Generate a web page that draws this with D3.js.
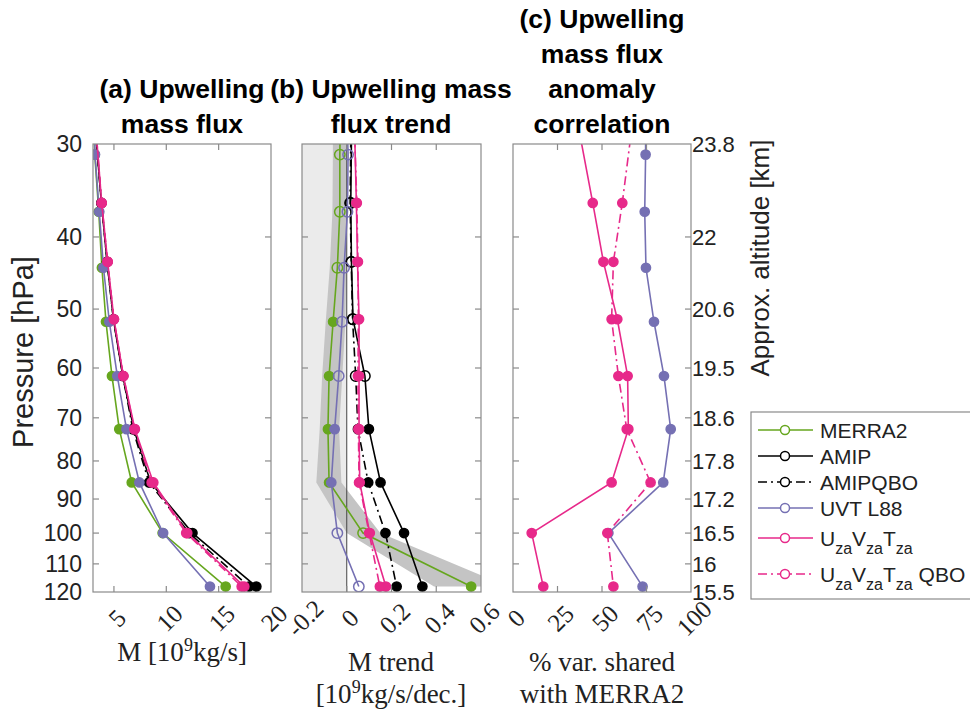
<!DOCTYPE html>
<html>
<head>
<meta charset="utf-8">
<script src="https://cdn.jsdelivr.net/npm/d3@7"></script>
<style>
	body { margin: 0; background: #fff; }
	svg { font-family: "Liberation Sans", Arial, sans-serif; }
</style>
</head>
<body>
<svg id="chart" width="970" height="711"></svg>
<script>
	// pressure levels [hPa] - first entry sits just above the 30 hPa top of the axes
	var levelsMerra = [27, 31, 37, 44, 52, 61.5, 72.5, 85.5, 100, 118];
	var levelsAmip = [29.5, 36, 43.2, 51.6, 61.5, 72.5, 85.5, 100, 118];
	var pressureTicks = [30, 40, 50, 60, 70, 80, 90, 100, 110, 120];
	var altitudeLabels = ['23.8', '22', '20.6', '19.5', '18.6', '17.8', '17.2', '16.5', '16', '15.5'];

	// (a) upwelling mass flux [1e9 kg/s]
	var fluxMerra = [3.05, 3.17, 3.55, 3.85, 4.24, 4.81, 5.51, 6.7, 9.65, 15.67];
	var fluxUvt = [3.1, 3.19, 3.6, 4.0, 4.56, 5.32, 6.2, 7.43, 9.7, 14.17];
	var fluxAmip = [3.3, 3.8, 4.35, 4.95, 5.85, 6.9, 8.5, 12.5, 18.6];
	var fluxAmipQbo = [3.3, 3.8, 4.35, 4.95, 5.85, 6.8, 8.35, 12.2, 17.9];
	var fluxUvtZa = [3.35, 3.83, 4.4, 5.0, 5.9, 7.0, 8.76, 12.0, 17.45];
	var fluxUvtZaQbo = [3.35, 3.83, 4.4, 5.0, 5.9, 6.95, 8.6, 11.9, 17.2];

	// (b) trend [1e9 kg/s/dec.] and significance (1 = filled marker)
	var trendMerra = [-0.028, -0.031, -0.031, -0.042, -0.061, -0.079, -0.084, -0.079, 0.073, 0.556];
	var sigMerra = [0, 0, 0, 0, 1, 1, 1, 1, 0, 1];
	var trendUvt = [0.0, 0.006, 0.003, -0.012, -0.021, -0.036, -0.054, -0.069, -0.042, 0.054];
	var sigUvt = [0, 0, 0, 0, 0, 0, 1, 1, 0, 0];
	var trendAmip = [0.021, 0.018, 0.021, 0.028, 0.081, 0.099, 0.151, 0.256, 0.338];
	var sigAmip = [0, 0, 0, 0, 0, 1, 1, 1, 1];
	var trendAmipQbo = [0.018, 0.015, 0.02, 0.026, 0.04, 0.05, 0.096, 0.173, 0.223];
	var sigAmipQbo = [0, 0, 0, 0, 0, 1, 1, 1, 1];
	var trendUvtZa = [0.036, 0.043, 0.048, 0.055, 0.055, 0.055, 0.058, 0.103, 0.175];
	var trendUvtZaQbo = [0.036, 0.045, 0.05, 0.052, 0.05, 0.052, 0.055, 0.1, 0.148];
	var sigAll = [1, 1, 1, 1, 1, 1, 1, 1, 1];
	// MERRA2 trend uncertainty band
	var bandLow = [-0.062, -0.062, -0.064, -0.076, -0.094, -0.11, -0.121, -0.136, 0.0, 0.39];
	var bandHigh = [-0.001, -0.001, -0.001, -0.002, -0.006, -0.02, -0.034, -0.024, 0.15, 0.72];

	// (c) % variance shared with MERRA2
	var corrUvt = [74.5, 74.5, 74, 74.7, 79.2, 84.8, 88.6, 84.4, 53.6, 72.8];
	var corrUvtZa = [38, 44.8, 50.8, 58.6, 64.4, 64.8, 55.4, 10.5, 17];
	var corrUvtZaQbo = [66, 61.4, 56.4, 55.4, 59.2, 63.9, 77.3, 53, 56.4];

(function() {
	'use strict';

	var colors = {merra: '#66a61e', amip: '#000000', uvt: '#7570b3', za: '#e7298a'};
	var dashDot = '9,4,2,4';
	var axisGray = '#8a8a8a';
	var serif = '"Liberation Serif", "DejaVu Serif", serif';

	var svg = d3.select('#chart');
	var yTop = 144, yBottom = 592;
	var panels = [
		{id: 'a', x0: 93, x1: 271, domain: [3, 20], ticks: [5, 10, 15, 20]},
		{id: 'b', x0: 302, x1: 481, domain: [-0.2, 0.6], ticks: [-0.2, 0, 0.2, 0.4, 0.6]},
		{id: 'c', x0: 513, x1: 691, domain: [0, 100], ticks: [0, 25, 50, 75, 100]}
	];

	var y = d3.scaleLog().domain([30, 120]).range([yTop, yBottom]);

	function makeSeries(levels, values, sig, color, dash) {
		return {
			color: color, dash: dash,
			points: levels.map(function(p, i) {
				return {p: p, v: values[i], filled: sig ? sig[i] === 1 : true};
			})
		};
	}

	panels[0].series = [
		makeSeries(levelsMerra, fluxMerra, null, colors.merra, null),
		makeSeries(levelsAmip, fluxAmip, null, colors.amip, null),
		makeSeries(levelsAmip, fluxAmipQbo, null, colors.amip, dashDot),
		makeSeries(levelsMerra, fluxUvt, null, colors.uvt, null),
		makeSeries(levelsAmip, fluxUvtZa, null, colors.za, null),
		makeSeries(levelsAmip, fluxUvtZaQbo, null, colors.za, dashDot)
	];
	panels[1].series = [
		makeSeries(levelsMerra, trendMerra, sigMerra, colors.merra, null),
		makeSeries(levelsAmip, trendAmip, sigAmip, colors.amip, null),
		makeSeries(levelsAmip, trendAmipQbo, sigAmipQbo, colors.amip, dashDot),
		makeSeries(levelsMerra, trendUvt, sigUvt, colors.uvt, null),
		makeSeries(levelsAmip, trendUvtZa, sigAll, colors.za, null),
		makeSeries(levelsAmip, trendUvtZaQbo, sigAll, colors.za, dashDot)
	];
	panels[2].series = [
		makeSeries(levelsMerra, corrUvt, null, colors.uvt, null),
		makeSeries(levelsAmip, corrUvtZa, null, colors.za, null),
		makeSeries(levelsAmip, corrUvtZaQbo, null, colors.za, dashDot)
	];

	var defs = svg.append('defs');

	panels.forEach(function(pn) {
		var x = d3.scaleLinear().domain(pn.domain).range([pn.x0, pn.x1]);

		defs.append('clipPath').attr('id', 'clip-' + pn.id)
			.append('rect')
				.attr('x', pn.x0).attr('y', yTop)
				.attr('width', pn.x1 - pn.x0).attr('height', yBottom - yTop);

		var g = svg.append('g');
		var plot = g.append('g').attr('clip-path', 'url(#clip-' + pn.id + ')');

		if (pn.id === 'b') {
			// negative-trend shading, MERRA2 band, zero line
			plot.append('rect')
				.attr('x', x(-0.2)).attr('y', yTop)
				.attr('width', x(0) - x(-0.2)).attr('height', yBottom - yTop)
				.attr('fill', '#ebebeb');
			var band = levelsMerra.map(function(p, i) { return {p: p, lo: bandLow[i], hi: bandHigh[i]}; });
			plot.append('path')
				.datum(band)
				.attr('fill', '#c4c4c4')
				.attr('d', d3.area()
					.y(function(d) { return y(d.p); })
					.x0(function(d) { return x(d.lo); })
					.x1(function(d) { return x(d.hi); }));
			plot.append('line')
				.attr('x1', x(0)).attr('x2', x(0))
				.attr('y1', yTop).attr('y2', yBottom)
				.attr('stroke', '#444').attr('stroke-width', 1);
		}

		var line = d3.line()
			.x(function(d) { return x(d.v); })
			.y(function(d) { return y(d.p); });

		pn.series.forEach(function(s) {
			plot.append('path')
				.datum(s.points)
				.attr('fill', 'none')
				.attr('stroke', s.color)
				.attr('stroke-width', 1.6)
				.attr('stroke-dasharray', s.dash)
				.attr('d', line);
			plot.selectAll(null)
				.data(s.points.filter(function(d) { return d.p >= 30 && d.p <= 120; }))
				.enter().append('circle')
					.attr('cx', function(d) { return x(d.v); })
					.attr('cy', function(d) { return y(d.p); })
					.attr('r', function(d) { return d.filled ? 4.6 : 5.2; })
					.attr('fill', function(d) { return d.filled ? s.color : 'none'; })
					.attr('stroke', s.color)
					.attr('stroke-width', 1.5);
		});

		// box + inward ticks on all four sides
		g.append('rect')
			.attr('x', pn.x0).attr('y', yTop)
			.attr('width', pn.x1 - pn.x0).attr('height', yBottom - yTop)
			.attr('fill', 'none').attr('stroke', axisGray).attr('stroke-width', 1.2);

		var tk = g.append('g').attr('stroke', axisGray).attr('stroke-width', 1.2);
		pressureTicks.slice(1, -1).forEach(function(p) {
			tk.append('line').attr('x1', pn.x0).attr('x2', pn.x0 + 6).attr('y1', y(p)).attr('y2', y(p));
			tk.append('line').attr('x1', pn.x1).attr('x2', pn.x1 - 6).attr('y1', y(p)).attr('y2', y(p));
		});
		pn.ticks.forEach(function(t) {
			var xx = x(t);
			if (xx <= pn.x0 + 1 || xx >= pn.x1 - 1) return;
			tk.append('line').attr('x1', xx).attr('x2', xx).attr('y1', yBottom).attr('y2', yBottom - 6);
			tk.append('line').attr('x1', xx).attr('x2', xx).attr('y1', yTop).attr('y2', yTop + 6);
		});

		// rotated x tick labels
		g.selectAll('text.xtick')
			.data(pn.ticks).enter()
			.append('text')
				.attr('class', 'xtick')
				.attr('transform', function(d) { return 'translate(' + (x(d) + 3) + ',618) rotate(-45)'; })
				.attr('text-anchor', 'middle')
				.attr('dy', '0.35em')
				.style('font-family', serif)
				.style('font-size', '25px')
				.attr('fill', '#222')
				.text(String);
	});

	// left pressure labels
	svg.selectAll('text.ytick')
		.data(pressureTicks).enter()
		.append('text')
			.attr('class', 'ytick')
			.attr('x', 82).attr('y', function(d) { return y(d); })
			.attr('dy', '0.36em')
			.attr('text-anchor', 'end')
			.style('font-size', '23px')
			.attr('fill', '#222')
			.text(String);

	// right altitude labels
	svg.selectAll('text.alt')
		.data(pressureTicks).enter()
		.append('text')
			.attr('class', 'alt')
			.attr('x', 692).attr('y', function(d) { return y(d); })
			.attr('dy', '0.36em')
			.style('font-size', '22px')
			.attr('fill', '#222')
			.text(function(d, i) { return altitudeLabels[i]; });

	svg.append('text')
		.attr('transform', 'translate(33,352) rotate(-90)')
		.attr('text-anchor', 'middle')
		.style('font-size', '29px')
		.attr('fill', '#222')
		.text('Pressure [hPa]');

	svg.append('text')
		.attr('transform', 'translate(769,258) rotate(-90)')
		.attr('text-anchor', 'middle')
		.style('font-size', '26px')
		.attr('fill', '#222')
		.text('Approx. altitude [km]');

	// titles
	var titles = [
		{cx: 182, lines: ['(a) Upwelling', 'mass flux']},
		{cx: 391, lines: ['(b) Upwelling mass', 'flux trend']},
		{cx: 602, lines: ['(c) Upwelling', 'mass flux', 'anomaly', 'correlation']}
	];
	titles.forEach(function(t) {
		var n = t.lines.length;
		t.lines.forEach(function(l, i) {
			svg.append('text')
				.attr('x', t.cx).attr('y', 133 - (n - 1 - i) * 35)
				.attr('text-anchor', 'middle')
				.style('font-size', '26.5px')
				.style('font-weight', 'bold')
				.text(l);
		});
	});

	// x axis labels (LaTeX style)
	function xlabel(cx, yy, parts) {
		var t = svg.append('text')
			.attr('x', cx).attr('y', yy)
			.attr('text-anchor', 'middle')
			.style('font-family', serif)
			.style('font-size', '27px')
			.attr('fill', '#222');
		parts.forEach(function(p) {
			var ts = t.append('tspan').text(p[0]);
			if (p[1]) ts.attr('baseline-shift', 'super').style('font-size', '18px');
		});
	}
	xlabel(182, 661, [['M [10'], ['9', true], ['kg/s]']]);
	xlabel(391, 671, [['M trend']]);
	xlabel(391, 703, [['[10'], ['9', true], ['kg/s/dec.]']]);
	xlabel(602, 671, [['% var. shared']]);
	xlabel(602, 703, [['with MERRA2']]);

	// legend
	var legendItems = [
		{color: colors.merra, dash: null, label: [['MERRA2']], y: 430},
		{color: colors.amip, dash: null, label: [['AMIP']], y: 456},
		{color: colors.amip, dash: dashDot, label: [['AMIPQBO']], y: 482},
		{color: colors.uvt, dash: null, label: [['UVT L88']], y: 508},
		{color: colors.za, dash: null, label: [['U'], ['za', 1], ['V'], ['za', 1], ['T'], ['za', 1]], y: 538},
		{color: colors.za, dash: dashDot, label: [['U'], ['za', 1], ['V'], ['za', 1], ['T'], ['za', 1], [' QBO']], y: 574}
	];
	var lg = svg.append('g');
	lg.append('rect')
		.attr('x', 751).attr('y', 412).attr('width', 260).attr('height', 187)
		.attr('fill', '#fff').attr('stroke', axisGray).attr('stroke-width', 1.2);
	legendItems.forEach(function(it) {
		lg.append('line')
			.attr('x1', 758).attr('x2', 813).attr('y1', it.y).attr('y2', it.y)
			.attr('stroke', it.color).attr('stroke-width', 1.6)
			.attr('stroke-dasharray', it.dash);
		lg.append('circle')
			.attr('cx', 785).attr('cy', it.y).attr('r', 4.5)
			.attr('fill', '#fff').attr('stroke', it.color).attr('stroke-width', 1.5);
		var t = lg.append('text')
			.attr('x', 820).attr('y', it.y).attr('dy', '0.36em')
			.style('font-size', '21px').attr('fill', '#222');
		it.label.forEach(function(p, i) {
			var ts = t.append('tspan').text(p[0]);
			if (p[1]) ts.attr('dy', 8).style('font-size', '16px');
			else if (i > 0) ts.attr('dy', -8);
		});
	});
})();
</script>
</body>
</html>
